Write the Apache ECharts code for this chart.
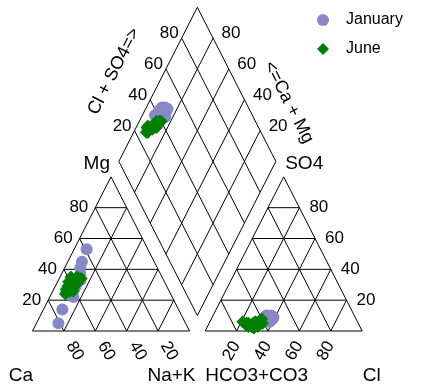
<!DOCTYPE html>
<html><head><meta charset="utf-8">
<script src="https://cdn.jsdelivr.net/npm/echarts@6/dist/echarts.min.js"></script>
<style>html,body{margin:0;padding:0;background:#fff}#chart{width:441px;height:388px}</style>
</head><body><div id="chart"></div>
<script>
// ---- data (percent of meq) ----
const seriesNames = ['January', 'June'];
const tickValues = [20, 40, 60, 80];

const januaryCa   = [39, 46, 49, 51, 53, 63, 74, 81, 56, 59, 62, 58];
const januaryMg   = [53, 45, 41, 37, 33, 22, 14,  5, 32, 30, 25, 29];
const januaryNaK  = [ 8,  9, 10, 12, 14, 15, 12, 14, 12, 11, 13, 13];
const januaryHCO3 = [62, 58, 55, 53, 54, 56, 57, 52, 55, 59, 53, 56];
const januarySO4  = [ 5,  8,  9, 10,  8,  6,  7,  9,  7,  6,  8, 10];
const januaryCl   = [33, 34, 36, 37, 38, 38, 36, 39, 38, 35, 39, 34];

const juneCa   = [58, 54, 52, 58, 61, 56, 63, 60, 65, 63, 61, 67, 59, 66];
const juneMg   = [35, 35, 34, 32, 32, 31, 29, 28, 27, 26, 26, 24, 30, 25];
const juneNaK  = [ 7, 11, 14, 10,  7, 13,  8, 12,  8, 11, 13,  9, 11,  9];
const juneHCO3 = [70, 63, 60, 66, 71, 61, 71, 65, 73, 68, 65, 72, 67, 69];
const juneSO4  = [ 5,  6,  8,  4,  3,  5,  5,  3,  6,  2,  6,  4,  5,  3];
const juneCl   = [25, 31, 32, 30, 26, 34, 24, 32, 21, 30, 29, 24, 28, 28];

// ---- geometry (unit = triangle side) ----
const H = Math.sqrt(3) / 2;
const FONT = '"Liberation Sans", Arial, Helvetica, sans-serif';

function cationXY(ca, mg, na) { const t = ca + mg + na; return [(na + mg / 2) / t, mg / t * H]; }
function anionXY(hc, so, cl) { const t = hc + so + cl; return [1.1 + (cl + so / 2) / t, so / t * H]; }
function diamondXY(ca, mg, na, hc, so, cl) {
  const n = na / (ca + mg + na), s = (so + cl) / (hc + so + cl);
  return [0.55 + 0.5 * (s + n), 1.1 * H + H * (s - n)];
}
function allPoints(ca, mg, na, hc, so, cl) {
  const pts = [];
  for (let i = 0; i < ca.length; i++) pts.push(cationXY(ca[i], mg[i], na[i]));
  for (let i = 0; i < ca.length; i++) pts.push(anionXY(hc[i], so[i], cl[i]));
  for (let i = 0; i < ca.length; i++) pts.push(diamondXY(ca[i], mg[i], na[i], hc[i], so[i], cl[i]));
  return pts;
}

// frame segments
const segs = [];
function tri(x0) {
  segs.push([x0, 0, x0 + 1, 0], [x0 + 1, 0, x0 + 0.5, H], [x0 + 0.5, H, x0, 0]);
  tickValues.forEach(t => {
    const v = t / 100;
    segs.push([x0 + v / 2, v * H, x0 + 1 - v / 2, v * H]);
    segs.push([x0 + 1 - v, 0, x0 + (1 - v) / 2, (1 - v) * H]);
    segs.push([x0 + v, 0, x0 + v + (1 - v) / 2, (1 - v) * H]);
  });
}
tri(0); tri(1.1);
const L = [0.55, 1.1 * H], T = [1.05, 2.1 * H], R = [1.55, 1.1 * H], B = [1.05, 0.1 * H];
segs.push([L[0], L[1], T[0], T[1]], [T[0], T[1], R[0], R[1]], [R[0], R[1], B[0], B[1]], [B[0], B[1], L[0], L[1]]);
tickValues.forEach(t => {
  const v = t / 100;
  segs.push([0.55 + 0.5 * v, 1.1 * H + v * H, 1.05 + 0.5 * v, 0.1 * H + v * H]);
  segs.push([0.55 + 0.5 * v, 1.1 * H - v * H, 1.05 + 0.5 * v, 2.1 * H - v * H]);
});

// labels: [x, y, dx, dy, text, rotationDeg, align, size]
const labels = [];
tickValues.forEach(t => {
  const v = t / 100;
  labels.push([1 - v, 0, 11, 20, String(t), -60, 'center', 17]);
  labels.push([1.1 + v, 0, -5, 20, String(t), 60, 'center', 17]);
  labels.push([v / 2, v * H, -7, 0, String(t), 0, 'right', 17]);
  labels.push([2.1 - v / 2, v * H, 10, 0, String(t), 0, 'left', 17]);
  labels.push([0.55 + 0.5 * v, 1.1 * H + H * v, -3, -4.5, String(t), 0, 'right', 17]);
  labels.push([0.55 + 0.5 * (2 - v), 1.1 * H + H * v, 8.5, -4.5, String(t), 0, 'left', 17]);
});
labels.push([0.5, H, -1, -13, 'Mg', 0, 'right', 19]);
labels.push([1.6, H, 1.5, -13, 'SO4', 0, 'left', 19]);
labels.push([0, 0, 0.5, 45, 'Ca', 0, 'right', 19]);
labels.push([1, 0, 6, 45, 'Na+K', 0, 'right', 19]);
labels.push([1.1, 0, 0, 45, 'HCO3+CO3', 0, 'left', 19]);
labels.push([2.1, 0, 0.5, 45, 'Cl', 0, 'left', 19]);
labels.push([0.8, 1.6 * H, -44, -13, 'Cl + SO4=>', 63, 'center', 18]);
labels.push([1.3, 1.6 * H, 52, 18, '<=Ca + Mg', -63, 'center', 18]);

const chart = echarts.init(document.getElementById('chart'));
chart.setOption({
  animation: false,
  backgroundColor: '#fff',
  grid: { left: 32.5, right: 441 - 32.5 - 2.1 * 157, top: 331 - 2.1 * H * 178, bottom: 57 },
  xAxis: { type: 'value', min: 0, max: 2.1, show: false },
  yAxis: { type: 'value', min: 0, max: 2.1 * H, show: false },
  legend: {
    data: seriesNames, orient: 'vertical', left: 317, top: 12, padding: 0,
    itemWidth: 12, itemHeight: 12, itemGap: 13,
    textStyle: { fontSize: 16, fontFamily: FONT, color: '#000', padding: [0, 0, 0, 12] }
  },
  series: [
    {
      type: 'custom', silent: true, clip: false, z: 1,
      data: segs, encode: { x: [0, 2], y: [1, 3] },
      renderItem: (p, api) => {
        const s = segs[p.dataIndex];
        const a = api.coord([s[0], s[1]]), b = api.coord([s[2], s[3]]);
        return { type: 'line', shape: { x1: a[0], y1: a[1], x2: b[0], y2: b[1] }, style: { stroke: '#000', lineWidth: 1 } };
      }
    },
    {
      type: 'custom', silent: true, clip: false, z: 5,
      data: labels.map(l => [l[0], l[1]]), encode: { x: 0, y: 1 },
      renderItem: (p, api) => {
        const l = labels[p.dataIndex];
        const a = api.coord([l[0], l[1]]);
        return {
          type: 'text', x: a[0] + l[2], y: a[1] + l[3], rotation: l[5] * Math.PI / 180,
          style: { text: l[4], fontSize: l[7], fontFamily: FONT, fill: '#000', align: l[6], verticalAlign: 'middle' }
        };
      }
    },
    {
      name: 'January', type: 'scatter', symbol: 'circle', symbolSize: 12, z: 3,
      itemStyle: { color: '#8787c9', opacity: 1 },
      data: allPoints(januaryCa, januaryMg, januaryNaK, januaryHCO3, januarySO4, januaryCl)
    },
    {
      name: 'June', type: 'scatter', symbol: 'diamond', symbolSize: 13, z: 4,
      itemStyle: { color: '#008000', opacity: 1 },
      data: allPoints(juneCa, juneMg, juneNaK, juneHCO3, juneSO4, juneCl)
    }
  ]
});
</script></body></html>
